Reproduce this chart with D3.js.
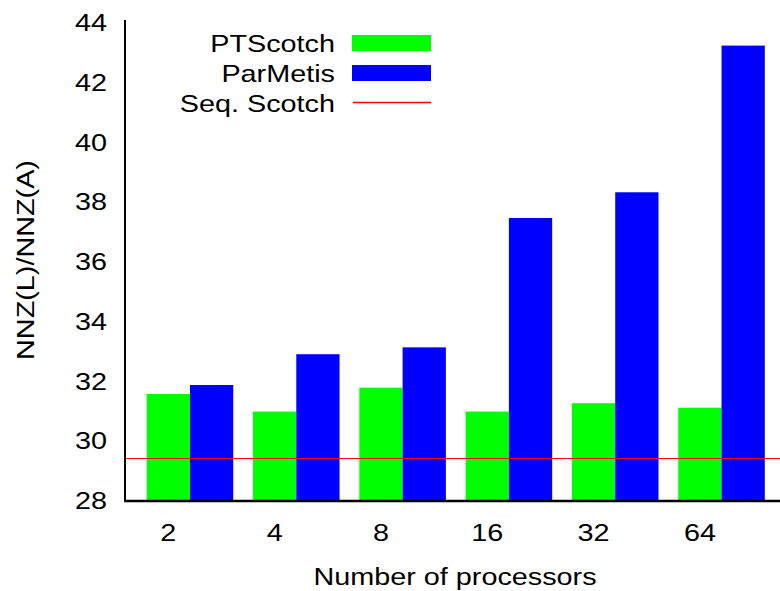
<!DOCTYPE html>
<html><head><meta charset="utf-8">
<script src="https://cdn.jsdelivr.net/npm/d3@7"></script>
<style>body{margin:0;background:#fff;overflow:hidden}</style></head>
<body>
<script>
const categories = ["2", "4", "8", "16", "32", "64"];
const seriesNames = ["PTScotch", "ParMetis"];
const ptscotch = [31.55, 30.96, 31.76, 30.96, 31.24, 31.09];
const parmetis = [31.85, 32.88, 33.11, 37.44, 38.30, 43.21];
const seqScotchName = "Seq. Scotch";
const seqScotch = 29.42;
const yTicks = [28, 30, 32, 34, 36, 38, 40, 42, 44];
const xTitle = "Number of processors";
const yTitle = "NNZ(L)/NNZ(A)";

const W = 780, H = 591;
const colors = ["#00ff00", "#0000ff"];
const lineColor = "#ff0000";
const FONT = "'Liberation Sans', Arial, Helvetica, sans-serif";
const FS = 24, SX = 1.2;

const svg = d3.select("body").append("svg").attr("width", W).attr("height", H);

const y = d3.scaleLinear().domain([28, 44]).range([500, 22]);
const x = d3.scaleBand().domain(categories).range([146.7, 764.8]).paddingInner(0.186).paddingOuter(0);
const xs = d3.scaleBand().domain(seriesNames).range([0, x.bandwidth()]);

const series = [ptscotch, parmetis];
function txt(g, s, tx, ty, anchor, rot) {
  return g.append("text")
    .attr("transform", `translate(${tx},${ty})` + (rot ? ` rotate(${rot})` : "") + ` scale(${SX},1)`)
    .attr("text-anchor", anchor)
    .attr("font-family", FONT).attr("font-size", FS).attr("fill", "#000")
    .text(s);
}

// bars
seriesNames.forEach((name, si) => {
  svg.append("g").selectAll("rect").data(categories.map((c, i) => ({c, v: series[si][i]})))
    .join("rect")
    .attr("x", d => x(d.c) + xs(name))
    .attr("width", xs.bandwidth())
    .attr("y", d => y(d.v))
    .attr("height", d => y(28) - y(d.v))
    .attr("fill", colors[si]);
});

// seq scotch line
const ly = Math.round(y(seqScotch)) + 0.5;
svg.append("line").attr("x1", 125).attr("x2", W).attr("y1", ly).attr("y2", ly)
  .attr("stroke", lineColor).attr("stroke-width", 1).attr("shape-rendering", "crispEdges");

// axes lines
svg.append("line").attr("x1", 125).attr("x2", 125).attr("y1", 20).attr("y2", y(28) + 2)
  .attr("stroke", "#000").attr("stroke-width", 2);
svg.append("line").attr("x1", 124).attr("x2", W).attr("y1", y(28) + 1).attr("y2", y(28) + 1)
  .attr("stroke", "#000").attr("stroke-width", 2.5);

// y tick labels
const gy = svg.append("g");
yTicks.forEach(t => txt(gy, String(t), 107, y(t) + 9, "end"));

// x tick labels (centred under the first bar of each group)
const gx = svg.append("g");
categories.forEach(c => txt(gx, c, x(c) + xs(seriesNames[0]) + xs.bandwidth() / 2, 541, "middle"));

// titles
txt(svg, xTitle, 455, 585, "middle");
txt(svg, yTitle, 34, 260, "middle", -90);

// legend
const lg = svg.append("g");
const legendItems = [
  {name: seriesNames[0], type: "box", color: colors[0]},
  {name: seriesNames[1], type: "box", color: colors[1]},
  {name: seqScotchName, type: "line", color: lineColor}
];
legendItems.forEach((it, i) => {
  const base = 52 + i * 30;
  txt(lg, it.name, 335, base, "end");
  if (it.type === "box") {
    lg.append("rect").attr("x", 352).attr("y", base - 17).attr("width", 79).attr("height", 16).attr("fill", it.color);
  } else {
    lg.append("line").attr("x1", 353).attr("x2", 431).attr("y1", base - 9.5).attr("y2", base - 9.5)
      .attr("stroke", it.color).attr("stroke-width", 1.5);
  }
});
</script>
</body></html>
